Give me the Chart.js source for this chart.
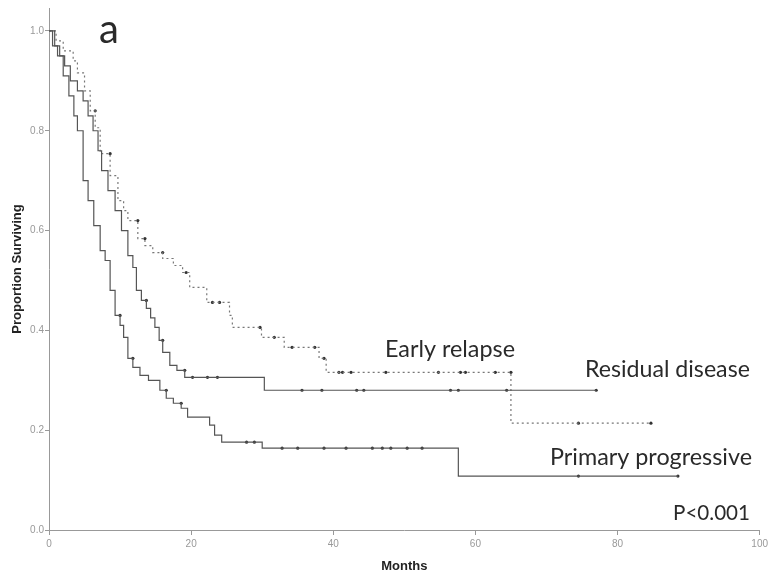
<!DOCTYPE html>
<html>
<head>
<meta charset="utf-8">
<script src="https://cdn.jsdelivr.net/npm/chart.js@4/dist/chart.umd.min.js"></script>
<style>
html,body{margin:0;padding:0;background:#fff;}
#wrap{width:771px;height:574px;position:relative;}
</style>
</head>
<body>
<div id="wrap"><canvas id="c" width="771" height="574"></canvas></div>
<script>
// ---- Data (months, proportion surviving) ----
const primaryTimes = [0,0.5,1.2,2,2.8,3.5,4,4.8,5.5,6.3,7.2,7.9,8.6,9.3,10,10.5,11.1,11.8,12.8,14,15.6,16.5,17.5,18.6,19.5,22.6,23.3,24.3,30,57.6,88.5];
const primarySurv  = [1,0.97,0.95,0.91,0.87,0.83,0.80,0.70,0.66,0.61,0.56,0.54,0.48,0.43,0.41,0.386,0.344,0.326,0.31,0.30,0.28,0.264,0.254,0.244,0.226,0.21,0.19,0.176,0.164,0.108,0.108];
const primaryCensor = [10,11.8,16.5,18.6,27.8,28.9,32.8,35,38.7,41.8,45.5,46.9,48.1,50.4,52.5,74.5,88.5];

const residualTimes = [0,0.8,1.5,2.2,3,4,4.8,5.5,6.2,6.9,7.4,8.3,9.3,10.2,11.1,11.8,12.3,13,13.7,14.3,14.9,15.5,16,17,18,19.1,30.3,77];
const residualSurv  = [1,0.97,0.95,0.93,0.90,0.88,0.86,0.83,0.80,0.76,0.72,0.68,0.64,0.60,0.55,0.526,0.48,0.46,0.444,0.425,0.406,0.38,0.356,0.33,0.32,0.306,0.28,0.28];
const residualCensor = [13.7,16,19.1,20.2,22.3,23.7,35.6,38.4,43.3,44.3,56.5,57.6,64.4,77];

const earlyTimes = [0,1,2,3.4,4,5,5.8,6.5,7.2,8.6,9.7,10.5,11.1,12.5,13.5,14.6,16,17.5,18.8,19.8,22.2,25.4,25.8,29.9,33.1,38,39,65,84.7];
const earlySurv  = [1,0.98,0.96,0.94,0.916,0.88,0.84,0.806,0.754,0.71,0.66,0.64,0.62,0.584,0.57,0.556,0.544,0.53,0.516,0.486,0.456,0.43,0.406,0.386,0.366,0.344,0.316,0.214,0.214];
const earlyCensor = [6.5,8.6,12.5,13.5,16,19.3,23,24,29.7,31.7,34.2,37.4,38.7,40.8,41.3,42.5,47.4,54.8,57.9,58.6,62.8,65,74.5,84.7];

const xTicks = [0,20,40,60,80,100];
const yTicks = [0,0.2,0.4,0.6,0.8,1.0];

const labels = [
  {text:'Early relapse', x:385, w:130, base:357},
  {text:'Residual disease', x:585, w:165, base:377},
  {text:'Primary progressive', x:550, w:202, base:465},
  {text:'P<0.001', x:673, w:77, base:520}
];

// ---- helpers ----
function pts(ts, ss){ return ts.map((t,i)=>({x:t, y:ss[i]})); }
function survAt(ts, ss, t){ // value of the step curve just before t
  let v = ss[0];
  for (let i=0;i<ts.length;i++){ if (ts[i] < t) v = ss[i]; }
  return v;
}
function censorPts(ts, ss, cs){ return cs.map(t=>({x:t, y:survAt(ts, ss, t)})); }

const lineCol = '#555';
const dotCol = '#777';
const markCol = '#333';

const textPlugin = {
  id:'texts',
  afterDraw(chart){
    const ctx = chart.ctx;
    ctx.save();
    ctx.fillStyle = '#2a2a2a';
    ctx.textBaseline = 'alphabetic';
    ctx.textAlign = 'left';
    ctx.font = '40px Lato';
    ctx.fillText('a', 99, 43);
    labels.forEach(l=>{
      ctx.font = '20px Lato';
      const w = ctx.measureText(l.text).width;
      const size = 20 * l.w / w;
      ctx.font = size.toFixed(2) + 'px Lato';
      ctx.fillText(l.text, l.x, l.base);
    });
    ctx.restore();
  }
};

new Chart(document.getElementById('c'), {
  type:'scatter',
  data:{
    datasets:[
      {label:'Primary progressive', data:pts(primaryTimes, primarySurv), showLine:true, stepped:true, borderColor:lineCol, borderWidth:1.2, pointRadius:0},
      {label:'Residual disease', data:pts(residualTimes, residualSurv), showLine:true, stepped:true, borderColor:lineCol, borderWidth:1.2, pointRadius:0},
      {label:'Early relapse', data:pts(earlyTimes, earlySurv), showLine:true, stepped:true, borderColor:dotCol, borderWidth:1.2, borderDash:[2,3], pointRadius:0},
      {label:'pc', data:censorPts(primaryTimes, primarySurv, primaryCensor), showLine:false, pointStyle:'circle', pointRadius:1.6, backgroundColor:markCol, borderColor:markCol, borderWidth:0},
      {label:'rc', data:censorPts(residualTimes, residualSurv, residualCensor), showLine:false, pointStyle:'circle', pointRadius:1.6, backgroundColor:markCol, borderColor:markCol, borderWidth:0},
      {label:'ec', data:censorPts(earlyTimes, earlySurv, earlyCensor), showLine:false, pointStyle:'circle', pointRadius:1.6, backgroundColor:markCol, borderColor:markCol, borderWidth:0}
    ]
  },
  options:{
    responsive:false,
    animation:false,
    layout:{padding:{top:8, right:9, left:0, bottom:0}},
    plugins:{legend:{display:false}, tooltip:{enabled:false}},
    scales:{
      x:{
        type:'linear', min:0, max:100,
        afterBuildTicks:s=>{ s.ticks = xTicks.map(v=>({value:v})); },
        afterFit:s=>{ s.height = 44; },
        grid:{drawOnChartArea:false, drawTicks:true, tickLength:5, color:'#999', tickColor:'#999'},
        border:{display:true, color:'#999', width:1},
        ticks:{padding:3, color:'#999', font:{family:'Liberation Sans', size:10}, maxRotation:0, callback:v=>String(v)},
        title:{display:true, text:'Months', color:'#222', font:{family:'Liberation Sans', size:13, weight:'bold'}, padding:{top:0,bottom:0}}
      },
      y:{
        type:'linear', min:0, max:1.046,
        afterBuildTicks:s=>{ s.ticks = yTicks.map(v=>({value:v})); },
        afterFit:s=>{ s.width = 49; },
        grid:{drawOnChartArea:false, drawTicks:true, tickLength:4, color:'#999', tickColor:'#999'},
        border:{display:true, color:'#999', width:1},
        ticks:{padding:1, color:'#999', font:{family:'Liberation Sans', size:10}, callback:v=>Number(v).toFixed(1)},
        title:{display:true, text:'Proportion Surviving', color:'#222', font:{family:'Liberation Sans', size:13, weight:'bold'}, padding:{top:10,bottom:0}}
      }
    }
  },
  plugins:[textPlugin]
});
</script>
</body>
</html>
